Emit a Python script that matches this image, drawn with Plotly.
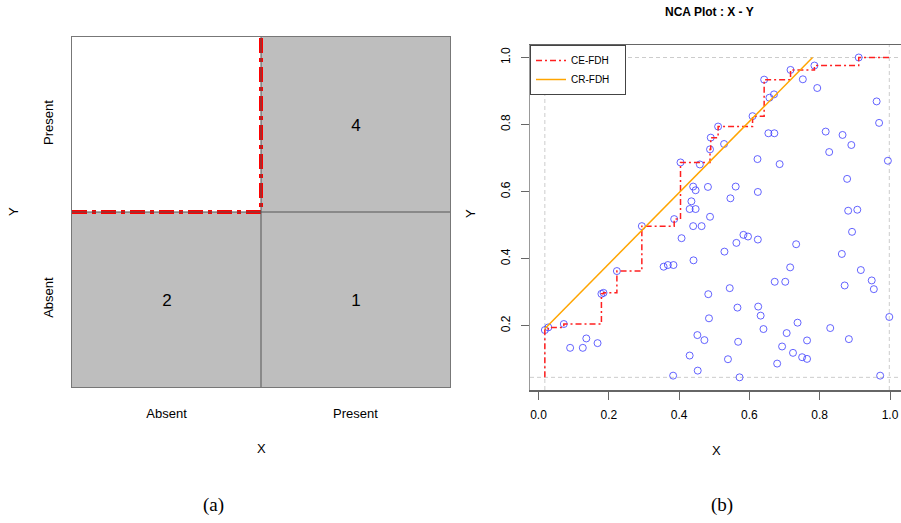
import plotly.graph_objects as go
import numpy as np

# ---------------- Panel (a): contingency table ----------------
cat_x = ["Absent", "Present"]
cat_y = ["Absent", "Present"]
# counts[row=y][col=x]
counts = [[2, 1],
          [0, 4]]
# 1 = observed zone (gray), 0 = empty ceiling zone (white)
zone = [[1, 1],
        [0, 1]]

# ---------------- Panel (b): NCA scatter ----------------
x_vals = [0.018, 0.028, 0.072, 0.090, 0.126, 0.136, 0.168, 0.179, 0.185, 0.223,
          0.294, 0.356, 0.368, 0.384, 0.386, 0.383, 0.404, 0.407, 0.430, 0.447,
          0.435, 0.440, 0.447, 0.482, 0.440, 0.464, 0.441, 0.452, 0.472, 0.430,
          0.453, 0.459, 0.488, 0.483, 0.485, 0.488, 0.490, 0.511, 0.528, 0.529,
          0.539, 0.544, 0.546, 0.561, 0.563, 0.566, 0.568, 0.572, 0.583, 0.596,
          0.609, 0.623, 0.624, 0.624, 0.625, 0.632, 0.640, 0.642, 0.654, 0.671,
          0.657, 0.670, 0.672, 0.679, 0.686, 0.693, 0.702, 0.706, 0.716, 0.717,
          0.724, 0.733, 0.737, 0.750, 0.752, 0.764, 0.764, 0.785, 0.793, 0.817,
          0.827, 0.830, 0.863, 0.865, 0.871, 0.878, 0.881, 0.883, 0.890, 0.892,
          0.907, 0.911, 0.917, 0.948, 0.954, 0.962, 0.969, 0.972, 0.994, 0.998]
y_vals = [0.187, 0.195, 0.205, 0.134, 0.134, 0.162, 0.148, 0.295, 0.298, 0.363,
          0.497, 0.376, 0.381, 0.381, 0.518, 0.051, 0.687, 0.461, 0.548, 0.548,
          0.571, 0.615, 0.604, 0.614, 0.497, 0.497, 0.395, 0.172, 0.157, 0.111,
          0.066, 0.681, 0.525, 0.294, 0.222, 0.726, 0.761, 0.794, 0.742, 0.421,
          0.100, 0.312, 0.580, 0.615, 0.447, 0.254, 0.152, 0.046, 0.471, 0.466,
          0.825, 0.697, 0.599, 0.457, 0.257, 0.230, 0.190, 0.934, 0.774, 0.774,
          0.880, 0.890, 0.331, 0.087, 0.682, 0.138, 0.331, 0.178, 0.374, 0.963,
          0.119, 0.443, 0.209, 0.106, 0.935, 0.156, 0.101, 0.976, 0.909, 0.779,
          0.718, 0.193, 0.414, 0.769, 0.320, 0.638, 0.543, 0.160, 0.739, 0.480,
          0.546, 1.000, 0.366, 0.335, 0.309, 0.869, 0.805, 0.051, 0.692, 0.226]

# CR-FDH regression line parameters
cr_intercept = 0.172
cr_slope = 1.062

x_ticks = [0.0, 0.2, 0.4, 0.6, 0.8, 1.0]
y_ticks = [0.2, 0.4, 0.6, 0.8, 1.0]

W, H = 901, 523
FONT = "Arial, Liberation Sans, sans-serif"


def px(v):
    return v / W


def py(v):
    return 1 - v / H


xa = np.array(x_vals)
ya = np.array(y_vals)
xmin, xmax = xa.min(), xa.max()
ymin, ymax = ya.min(), ya.max()

# CE-FDH step ceiling: peers where cumulative max of y increases
order = np.argsort(xa, kind="stable")
ce_x, ce_y = [xmin], [ymin]
best = -np.inf
for i in order:
    if ya[i] > best:
        best = ya[i]
        ce_x.append(xa[i])
        ce_y.append(ya[i])
ce_x.append(xmax)
ce_y.append(best)

# CR-FDH line within scope
cr_x = [xmin, min(xmax, (ymax - cr_intercept) / cr_slope)]
cr_y = [cr_intercept + cr_slope * v for v in cr_x]

fig = go.Figure()

ix = list(range(len(cat_x)))
iy = list(range(len(cat_y)))
text_cells = [[str(c) if c > 0 else "" for c in row] for row in counts]
fig.add_trace(go.Heatmap(
    x=ix, y=iy, z=zone, text=text_cells, texttemplate="%{text}",
    textfont=dict(size=17, color="black", family=FONT),
    colorscale=[[0, "white"], [1, "#BEBEBE"]], zmin=0, zmax=1,
    showscale=False, hoverinfo="skip", xaxis="x", yaxis="y"))

# ceiling line in panel (a): along the boundary of the empty zone (cell edges)
fig.add_trace(go.Scatter(
    x=[ix[0] - 0.5, ix[0] + 0.5, ix[0] + 0.5],
    y=[iy[1] - 0.5, iy[1] - 0.5, iy[1] + 0.5], mode="lines",
    line=dict(color="#FF0000", width=4, dash="15px,5px,4px,5px"),
    showlegend=False, hoverinfo="skip", xaxis="x", yaxis="y"))

# Panel (b)
fig.add_trace(go.Scatter(
    x=x_vals, y=y_vals, mode="markers",
    marker=dict(symbol="circle-open", size=7,
                color="rgba(50,50,255,0.75)", line=dict(width=1)),
    showlegend=False, hoverinfo="skip", xaxis="x2", yaxis="y2"))
fig.add_trace(go.Scatter(
    x=ce_x, y=ce_y, mode="lines", line_shape="hv", name="CE-FDH&nbsp;&nbsp;&nbsp;&nbsp;",
    line=dict(color="#FF2020", width=1.5, dash="6px,3px,2px,3px"),
    hoverinfo="skip", xaxis="x2", yaxis="y2"))
fig.add_trace(go.Scatter(
    x=cr_x, y=cr_y, mode="lines", name="CR-FDH",
    line=dict(color="#FFA500", width=1.5),
    hoverinfo="skip", xaxis="x2", yaxis="y2"))

shapes = []
# inner grid lines of panel (a)
shapes.append(dict(type="line", xref="x", yref="y domain", x0=0.5, x1=0.5, y0=0, y1=1,
                   line=dict(color="#555555", width=1)))
shapes.append(dict(type="line", xref="x domain", yref="y", x0=0, x1=1, y0=0.5, y1=0.5,
                   line=dict(color="#555555", width=1)))
# scope lines in panel (b)
dash_gray = dict(color="#CCCCCC", width=1, dash="4px,3px")
for xv in (xmin, xmax):
    shapes.append(dict(type="line", xref="x2", yref="y2 domain", x0=xv, x1=xv, y0=0, y1=1,
                       line=dash_gray, layer="below"))
for yv in (ymin, ymax):
    shapes.append(dict(type="line", xref="x2 domain", yref="y2", x0=0, x1=1, y0=yv, y1=yv,
                       line=dash_gray, layer="below"))


def ann(text, x, y, size=13, angle=0, family=FONT):
    return dict(text=text, x=px(x), y=py(y), xref="paper", yref="paper", showarrow=False,
                xanchor="center", yanchor="middle", textangle=angle,
                font=dict(size=size, family=family, color="black"))


SERIF = "Liberation Serif, Times New Roman, serif"
annotations = [
    ann("Y", 14, 212, angle=-90),
    ann("X", 261, 448),
    ann("Y", 471, 214, angle=-90),
    ann("X", 716, 450),
    ann("<b>NCA Plot : X - Y</b>", 709, 12, size=12),
    ann("(a)", 213, 505, size=19, family=SERIF),
    ann("(b)", 722, 505, size=19, family=SERIF),
]

fig.update_layout(
    width=W, height=H, margin=dict(l=0, r=0, t=0, b=0),
    paper_bgcolor="white", plot_bgcolor="white",
    font=dict(family=FONT, color="black"),
    hovermode=False,
    xaxis=dict(domain=[px(72), px(450)], range=[-0.5, 1.5],
               tickvals=ix, ticktext=cat_x,
               showgrid=False, zeroline=False, showline=True, mirror=True,
               linecolor="#777777", linewidth=1,
               ticks="outside", ticklen=14, tickcolor="rgba(0,0,0,0)",
               tickfont=dict(size=13, family=FONT, color="black"), fixedrange=True),
    yaxis=dict(domain=[py(387), py(37)], range=[-0.5, 1.5],
               tickvals=iy, ticktext=cat_y,
               showgrid=False, zeroline=False, showline=True, mirror=True,
               linecolor="#777777", linewidth=1, tickangle=-90,
               ticks="outside", ticklen=13, tickcolor="rgba(0,0,0,0)",
               tickfont=dict(size=13, family=FONT, color="black"), fixedrange=True),
    xaxis2=dict(domain=[px(530), 1.0], range=[-0.0242, 1.0313], anchor="y2",
                tickvals=x_ticks, tickformat=".1f", ticks="outside", ticklen=8,
                tickcolor="#666666", ticklabelstandoff=5, ticklabeloverflow="allow",
                showgrid=False, zeroline=False, showline=True, mirror=True,
                linecolor="#666666", linewidth=1.5,
                tickfont=dict(size=12, family=FONT, color="black")),
    yaxis2=dict(domain=[py(390), py(45)], range=[0.0082, 1.0373], anchor="x2",
                tickvals=y_ticks, tickformat=".1f", ticks="outside", ticklen=8,
                tickcolor="#666666", tickangle=-90, ticklabelstandoff=6,
                showgrid=False, zeroline=False, showline=True, mirror=False,
                linecolor="#999999", linewidth=1.5,
                tickfont=dict(size=12, family=FONT, color="black")),
    legend=dict(x=px(530), y=py(45), xanchor="left", yanchor="top",
                bgcolor="white", bordercolor="#444444", borderwidth=1,
                font=dict(size=10, family=FONT, color="black"),
                itemwidth=30, tracegroupgap=0),
    shapes=shapes, annotations=annotations,
)

fig.write_html(
    "out.html",
    config={"displayModeBar": False, "staticPlot": True},
    post_script="document.body.style.margin='0px';document.body.style.overflow='hidden';",
)
